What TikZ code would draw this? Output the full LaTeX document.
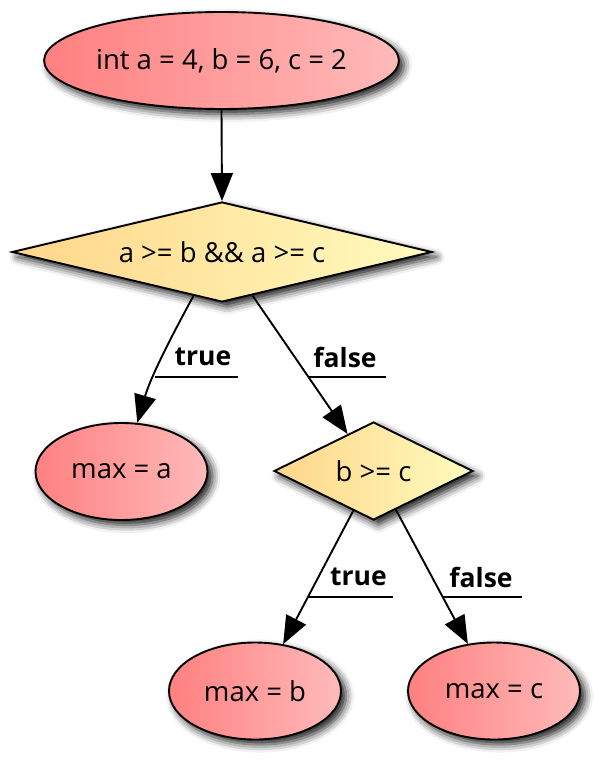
\documentclass[tikz,border=0pt]{standalone}
\usepackage{fontspec}
\setmainfont{Open Sans}
\usetikzlibrary{shapes.geometric,arrows.meta,shadows.blur}
\definecolor{ovalL}{RGB}{255,128,128}
\definecolor{ovalR}{RGB}{255,186,186}
\definecolor{decL}{RGB}{255,214,138}
\definecolor{decR}{RGB}{255,251,190}
\begin{document}
\begin{tikzpicture}[x=1pt,y=-1pt,
  base/.style={draw=black, line width=1.9pt, inner sep=0pt,
    font=\fontsize{27.5}{32}\selectfont,
    blur shadow={shadow xshift=5pt, shadow yshift=-5pt, shadow blur radius=8pt, shadow opacity=90}},
  ovalbox/.style={base, ellipse, left color=ovalL, right color=ovalR},
  decbox/.style={base, diamond, left color=decL, right color=decR},
  arr/.style={line width=1.9pt, -{Triangle[length=28pt,width=22pt]}},
  lbl/.style={font=\fontsize{26.5}{30}\selectfont\bfseries, inner sep=0pt},
  uline/.style={line width=1.6pt}]
\useasboundingbox (0,0) rectangle (603,767);

\node[ovalbox, minimum width=351pt, minimum height=97pt] (t) at (221.5,60.5) {int a = 4, b = 6, c = 2};
\node[decbox, minimum width=420pt, minimum height=100pt, shape aspect=4.2] (d1) at (222,252) {a >= b \&\& a >= c};
\node[ovalbox, minimum width=172pt, minimum height=97pt] (ma) at (121.5,471.5) {max = a};
\node[decbox, minimum width=199pt, minimum height=98pt, shape aspect=2] (d2) at (373.5,471) {b >= c};
\node[ovalbox, minimum width=172pt, minimum height=97pt] (mb) at (255,691) {max = b};
\node[ovalbox, minimum width=172pt, minimum height=97pt] (mc) at (494,691) {max = c};

\draw[arr] (t.south) -- (d1.north);
\draw[arr] (d1.-123) .. controls +(-18,33) and +(14,-48) .. (ma.72.5);
\draw[arr] (d1.-55.4) -- (d2.125.3);
\draw[arr] (d2.-117) -- (mb.59.6);
\draw[arr] (d2.-60.8) -- (mc.119.5);

\node[lbl] (l1) at (203,357) {true};
\coordinate (u1a) at (155,377); \coordinate (u1b) at (238,377);
\draw[uline] (u1a) -- (u1b);
\node[lbl] (l2) at (345,357) {false};
\coordinate (u2a) at (309,377); \coordinate (u2b) at (386,377);
\draw[uline] (u2a) -- (u2b);
\node[lbl] (l3) at (358.5,577) {true};
\coordinate (u3a) at (308,597); \coordinate (u3b) at (393,597);
\draw[uline] (u3a) -- (u3b);
\node[lbl] (l4) at (481,577) {false};
\coordinate (u4a) at (443,597); \coordinate (u4b) at (522,597);
\draw[uline] (u4a) -- (u4b);
\end{tikzpicture}
\end{document}
